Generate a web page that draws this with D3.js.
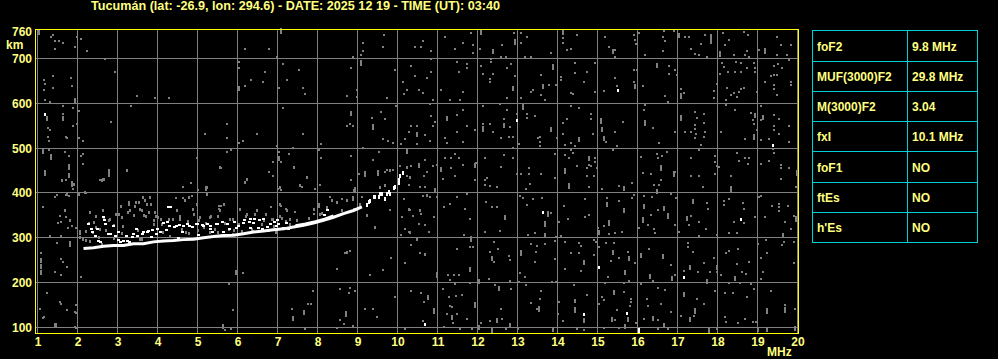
<!DOCTYPE html>
<html><head><meta charset="utf-8">
<script src="https://cdn.jsdelivr.net/npm/d3@7"></script>
<style>
body{margin:0;background:#000;}
svg{display:block;}
text{font-family:"Liberation Sans",Arial,sans-serif;font-weight:bold;}
</style></head>
<body><svg id="c" width="998" height="359"></svg>
<script>
// ---------- DATA ----------
const titleText = "Tucumán (lat: -26.9, lon: 294.6) - DATE: 2025 12 19 - TIME (UT): 03:40";
const freqTicks = [1,2,3,4,5,6,7,8,9,10,11,12,13,14,15,16,17,18,19,20];
const heightTicks = [100,200,300,400,500,600,700];
const heightLabels = [100,200,300,400,500,600,700,760];
const tableLabels = ["foF2","MUF(3000)F2","M(3000)F2","fxI","foF1","ftEs","h'Es"];
const tableValues = ["9.8 MHz","29.8 MHz","3.04","10.1 MHz","NO","NO","NO"];

// main O-trace (MHz, km)
const traceF = [2.15,2.40,2.65,2.90,3.15,3.40,3.65,3.90,4.15,4.40,4.65,4.90,5.15,5.40,5.65,5.90,6.15,6.40,6.65,6.90,7.15,7.40,7.65,7.90,8.15,8.40,8.65,8.90,9.11];
const traceH = [276,278,281,283,283,287,287,291,293,294,296,297,300,303,305,306,309,313,315,318,320,324,328,333,339,346,354,361,369];
// trace thickening band 7.4-8.4 MHz
const bandF = [7.45,7.7,7.95,8.2,8.4];
const bandH = [327,331,336,342,349];
// dotted end of trace near foF2 / fxI
const traceTail = [[9.23,373],[9.28,380],[9.32,383],[9.40,390],[9.44,391],[9.53,390],[9.57,398],[9.61,398],[9.69,387],[9.73,398],[9.78,402],[9.80,398],[9.90,411],[9.94,413],[10.03,423],[10.07,439],[10.13,445],[10.03,430]];
// upper (multiple) echo cloud, white
const echoWhite = [[2.36,313],[2.48,320],[2.65,339],[2.82,309],[2.94,305],[3.07,291],[3.23,294],[3.36,302],[3.48,305],[3.61,309],[3.73,313],[3.86,317],[3.98,320],[4.07,313],[4.23,335],[4.32,369],[4.40,324],[4.53,328],[4.61,313],[4.73,331],[4.86,324],[4.98,331],[5.11,328],[5.23,331],[5.36,313],[5.48,331],[5.61,335],[5.73,331],[5.90,335],[6.15,339],[6.28,335],[6.40,343],[6.53,339],[6.61,320],[6.73,324],[6.90,335],[6.98,339],[8.15,350],[8.23,361],[2.55,290],[3.0,296],[3.3,290],[4.5,300],[5.0,306],[4.2,318],[5.3,320],[6.0,326],[6.3,322],[7.2,334],[7.0,330],
[2.26,331],[2.34,320],[2.43,305],[2.51,294],[2.63,346],[2.68,331],[2.76,308],[2.88,327],[2.93,305],[3.01,312],[3.13,294],[3.22,305],[3.38,308],[3.47,320],[3.63,312],[3.76,316],[3.84,301],[3.97,308],[4.13,334],[4.26,368],[4.30,327],[4.47,327],[4.63,327],[4.80,327],[4.97,331],[5.13,327],[5.30,327],[5.47,331],[5.63,312],[5.80,320],[5.97,323],[6.13,334],[6.30,342],[6.38,334],[6.51,323],[6.63,342],[6.80,331],[6.97,327],[7.13,323],[7.26,320]];
// upper echo cloud, grey
const echoGrey = [[1.61,428],[1.73,398],[1.90,421],[2.03,398],[2.19,402],[1.69,361],[1.82,339],[2.07,302],[2.28,332],[2.32,294],[2.40,335],[2.53,302],[2.61,287],[2.65,346],[2.78,339],[2.90,328],[3.03,354],[3.11,346],[3.28,376],[3.32,361],[3.40,350],[3.44,372],[3.53,380],[3.61,361],[3.65,350],[3.69,384],[3.73,376],[3.78,358],[3.82,391],[3.90,339],[3.94,358],[4.02,346],[4.11,331],[4.32,305],[4.48,361],[4.57,343],[4.69,384],[4.78,391],[4.90,354],[4.98,376],[5.03,339],[5.15,324],[5.23,398],[5.32,346],[5.44,320],[5.57,361],[5.65,376],[5.82,343],[5.90,317],[6.07,365],[6.23,354],[6.36,320],[6.48,361],[6.65,339],[6.78,317],[6.86,343],[7.07,376],[7.07,413],[7.23,361],[7.32,343],[7.40,458],[7.57,417],[7.73,436],[7.90,365],[8.03,376],[8.07,354],[8.23,369],[8.36,384],[8.48,380],[8.61,361],[8.73,384],[8.90,406],[8.90,365],[9.07,376],[9.19,443],[9.23,350],[9.44,324],[9.57,413],[9.69,417],[9.82,451],[10.23,458],[10.32,436],[10.53,462],[10.73,395],[10.28,365],[10.57,361],[10.32,313],[10.48,298],[10.69,265],[8.73,268],[5.57,457],[5.23,413],[6.19,425],[2.65,432],[2.61,428],[2.78,447],[3.23,451],[6.23,432],[2.45,325],[2.7,318],[3.1,310],[3.5,318],[3.9,330],[4.3,342],[4.6,320],[5.0,318],[5.5,314],[5.8,320],[6.1,316],[6.6,330],[7.1,344],[7.5,340],[7.8,345],[8.1,356],[2.2,296],[2.9,300],[3.6,298],[4.8,310],[6.9,326],[7.3,330],
[2.30,357],[2.47,349],[2.63,361],[2.80,342],[2.97,353],[3.09,372],[3.26,357],[3.30,379],[3.47,379],[3.55,364],[3.63,390],[3.72,349],[3.84,375],[3.97,349],[4.09,342],[4.38,342],[4.55,349],[4.76,338],[4.88,364],[5.05,346],[5.22,334],[5.34,349],[5.51,349],[5.68,334],[5.88,342],[6.05,331],[6.22,349],[6.43,353],[6.72,353],[6.88,342],[7.05,349],[7.22,338],[2.38,312],[2.55,320],[3.13,327],[3.55,297],[4.13,312],[4.72,312],[5.30,312],[5.88,308],[6.38,316],[6.97,312],[2.13,297],[2.22,316]];
// background interference, single dots (MHz, km)
const noiseDots = [
[1.34,748],[1.38,752],[1.44,739],[1.53,739],[1.63,735],[1.44,721],[1.94,726],[1.98,748],[2.09,743],[2.23,716],[2.69,698],[2.94,670],[3.49,617],[3.94,611],[4.28,611],[3.34,593],[2.83,558],[1.38,661],[1.15,651],[1.19,643],[1.84,657],[1.87,639],[1.38,634],[1.15,629],[1.19,607],[1.32,603],[1.63,593],[1.88,590],[2.03,584],[1.63,576],[1.88,549],[1.98,553],[1.26,544],[1.30,540],[1.26,526],[1.70,526],[1.74,523],[1.28,517],[2.03,523],[2.13,517],[1.28,495],[1.69,491],[1.78,482],[2.09,482],[2.13,486],[2.13,464],[1.70,428],[2.55,428],[2.63,432],[2.78,438],[3.23,451],[5.18,531],[5.73,553],[5.73,523],[6.03,512],[6.13,517],[6.48,531],[5.84,495],[5.73,491],[5.59,456],[4.98,478],[6.19,721],[6.78,721],[6.98,704],[7.13,687],[6.03,692],[6.03,679],[6.19,639],[6.34,651],[6.69,669],[6.63,647],[7.03,634],[7.23,651],[7.13,590],[6.98,504],[7.03,491],[7.28,486],[7.09,469],[6.88,469],[6.78,447],[6.88,438],[6.23,428],
[9.65,752],[9.13,735],[9.63,726],[9.13,716],[9.08,707],[8.88,704],[8.84,679],[7.54,674],[7.63,634],[7.69,620],[8.73,617],[8.98,629],[8.98,614],[9.73,611],[9.94,674],[10.33,684],[10.44,660],[10.63,739],[10.44,726],[10.58,726],[10.83,716],[10.83,698],[10.84,669],[10.73,657],[10.13,648],[10.23,629],[10.15,620],[10.54,629],[10.63,624],[10.88,607],[11.19,748],[11.44,721],[11.63,735],[11.88,730],[11.88,713],[11.84,757],[11.48,692],[11.73,687],[11.73,679],[11.54,669],[11.09,629],[11.30,607],[11.55,607],[11.63,625],[12.05,721],[12.61,730],[12.58,704],[12.72,704],[12.33,698],[12.33,692],[12.08,684],[12.13,665],[12.30,655],[12.32,648],[12.38,665],[12.73,679],[12.83,687],[12.94,660],[12.73,611],[13.09,756],[13.23,747],[12.90,757],[13.09,735],[13.19,704],[13.33,704],[13.58,663],[13.33,625],[13.38,629],[13.58,618],[13.08,611],[9.97,593],[9.58,581],[9.36,567],[9.69,564],[8.73,549],[8.82,553],[8.88,549],[7.63,531],[8.08,509],[7.38,500],[8.04,495],[8.08,478],[8.84,482],[9.13,500],[9.54,491],[9.38,473],[9.63,521],[9.75,517],[9.88,512],[10.08,509],[10.19,521],[10.33,549],[10.48,549],[10.69,529],[10.80,517],[10.28,536],[10.48,510],[10.88,549],[10.83,571],[10.94,558],[10.80,598],[11.48,573],[11.63,585],[11.48,536],[11.63,514],[11.19,523],[11.23,512],[11.73,549],[11.94,540],[12.13,555],[12.30,553],[12.38,536],[12.13,593],[12.55,598],[12.73,585],[12.65,566],[12.82,547],[12.58,523],[12.79,526],[12.88,526],[12.98,577],[13.23,576],[13.23,567],[13.44,571],[13.50,523],[13.55,525],[13.55,513],[13.55,504],[13.03,509],[12.88,500],[12.88,478],[12.67,485],[12.58,459],[12.19,478],[11.97,467],[11.63,462],[11.34,456],[11.19,478],[11.34,478],[11.44,486],[11.54,478],[11.13,432],[10.98,463],[10.88,460],[10.69,473],[10.73,447],[10.65,438],[10.33,460],[10.23,456],[10.23,438],[10.07,460],[9.88,451],[9.73,451],[9.69,447],[9.19,447],[9.19,438],[9.03,442],[8.84,430],[7.73,433],[11.44,438],[11.94,428],[12.19,428],[12.23,433],[12.98,442],[13.08,442],[13.28,456],[13.28,442],[13.58,442],
[14.14,745],[14.14,735],[14.48,752],[14.23,719],[14.33,721],[13.83,713],[15.19,748],[15.29,725],[15.43,719],[15.43,704],[15.90,752],[15.93,742],[15.96,733],[16.04,757],[16.18,707],[16.65,761],[16.64,748],[16.68,739],[16.90,761],[16.64,717],[17.18,747],[17.29,748],[17.33,721],[17.58,732],[17.43,711],[17.54,707],[17.73,704],[17.69,752],[18.13,757],[18.29,741],[18.19,730],[18.40,707],[18.65,759],[18.77,752],[18.73,717],[18.68,707],[18.79,704],[19.04,719],[19.48,747],[19.58,730],[19.83,730],[19.48,707],[19.73,707],[19.79,696],[14.08,659],[14.08,652],[14.44,689],[14.44,668],[14.73,670],[14.67,648],[14.94,691],[14.94,625],[14.33,624],[14.39,620],[13.96,640],[13.79,640],[13.69,607],[15.15,628],[15.43,657],[15.48,639],[15.90,648],[15.90,674],[15.98,674],[16.14,639],[16.79,684],[16.79,666],[16.93,674],[16.98,663],[16.69,616],[16.75,603],[17.08,633],[17.15,624],[17.90,627],[17.90,612],[17.98,644],[18.10,689],[18.15,681],[18.07,666],[18.27,670],[18.46,692],[18.58,691],[18.43,670],[18.58,670],[18.73,678],[18.92,690],[18.93,678],[18.93,669],[18.23,635],[18.21,607],[18.33,618],[18.42,622],[18.48,614],[18.54,626],[18.58,631],[18.67,634],[18.98,626],[19.19,648],[19.40,684],[19.50,687],[19.60,678],[19.33,660],[19.40,664],[19.48,664],[19.40,640],[19.40,631],[19.48,618],[19.83,648],[19.83,640],
[13.98,523],[14.14,532],[14.14,556],[14.23,566],[14.33,593],[14.54,590],[14.83,576],[14.83,566],[14.88,531],[14.33,512],[14.18,506],[14.44,504],[15.21,514],[15.43,535],[15.64,558],[15.48,504],[15.38,497],[16.18,596],[16.17,585],[16.39,545],[16.54,512],[16.94,536],[17.18,536],[17.33,536],[17.44,581],[17.48,567],[17.43,551],[17.43,542],[17.46,531],[17.43,523],[17.58,508],[17.54,497],[17.65,577],[17.65,556],[17.68,536],[17.65,526],[18.08,536],[18.21,596],[18.43,585],[18.83,579],[18.88,562],[18.90,553],[18.98,541],[18.69,520],[19.08,593],[19.08,562],[19.08,519],[19.40,573],[19.54,566],[19.40,549],[19.40,540],[19.29,521],[19.54,531],[19.79,549],[19.79,514],[19.38,499],[19.40,490],[13.93,486],[14.18,484],[14.29,478],[14.33,495],[14.38,490],[14.48,460],[14.79,462],[14.73,456],[14.94,478],[14.94,469],[14.83,460],[14.98,456],[14.73,437],[14.90,437],[13.94,433],[16.08,480],[16.48,486],[16.61,482],[16.73,491],[16.50,477],[16.13,445],[16.33,442],[16.93,447],[16.58,430],[17.33,478],[17.33,439],[17.54,438],[17.93,482],[17.93,469],[17.98,460],[18.04,458],[17.93,442],[18.33,439],[18.48,490],[18.54,471],[18.68,478],[18.79,478],[18.77,464],[19.08,465],[19.29,471],[19.58,463],[19.58,456],[19.79,456],[19.58,432],
[1.88,409],[1.48,396],[1.43,390],[1.70,396],[1.78,394],[2.03,398],[2.20,401],[1.13,368],[1.57,349],[1.70,346],[1.59,336],[1.51,333],[1.76,323],[1.87,327],[1.97,323],[1.30,305],[1.59,305],[1.48,288],[1.09,267],[1.59,253],[1.63,245],[1.43,223],[1.59,217],[1.73,234],[2.09,212],[1.23,176],[1.05,142],[1.13,122],[1.55,156],[1.59,152],[1.73,139],[1.95,151],[1.95,133],[1.97,98],[4.63,413],[4.83,422],[4.87,394],[5.01,407],[5.53,372],[5.59,372],[5.53,364],[6.13,221],[5.78,198],[5.88,139],[5.68,95],[5.84,96],[7.01,410],[7.09,407],[6.84,368],[7.09,372],[7.20,364],[4.45,388],[4.63,388],[1.15,123],[1.94,134],[1.94,100],
[7.61,413],[7.94,409],[8.05,418],[9.11,390],[8.61,387],[8.32,390],[8.36,383],[7.44,357],[8.03,368],[7.92,353],[9.82,401],[10.15,387],[10.28,418],[10.55,413],[10.69,413],[10.98,390],[10.82,390],[10.63,394],[11.32,375],[11.48,390],[11.69,364],[11.15,368],[11.73,398],[12.19,418],[12.32,415],[12.48,413],[12.36,368],[12.22,379],[12.48,368],[13.07,394],[13.13,388],[13.22,409],[13.30,420],[13.38,387],[13.23,373],[13.61,388],[10.32,361],[10.38,349],[10.58,353],[10.90,346],[10.11,346],[10.53,331],[10.69,329],[10.19,320],[10.28,314],[10.78,314],[10.08,306],[9.44,323],[9.80,361],[11.82,342],[11.82,279],[11.88,279],[11.48,276],[11.65,306],[12.19,314],[12.55,316],[12.40,291],[12.30,269],[12.50,275],[12.40,245],[12.78,260],[12.80,251],[13.33,286],[13.48,282],[13.47,269],[13.44,247],[13.25,306],[13.44,311],[8.69,266],[8.80,270],[9.83,256],[10.33,284],[10.55,266],[10.19,244],[8.48,230],[9.63,229],[9.30,217],[11.25,217],[11.40,217],[11.53,217],[11.30,206],[11.44,197],[11.80,200],[12.28,208],[12.44,194],[12.82,204],[13.05,221],[13.19,212],[13.03,202],[13.22,194],[12.83,186],[13.58,182],[13.57,163],[13.48,141],[13.33,154],[7.88,182],[8.55,185],[8.80,189],[8.78,178],[8.94,182],[9.94,167],[10.33,182],[10.58,177],[10.67,157],[11.13,186],[11.28,167],[11.47,171],[11.61,172],[11.30,147],[11.36,145],[11.23,130],[11.48,130],[11.73,119],[11.86,96],[12.08,111],[12.32,115],[12.61,119],[12.58,142],[12.72,96],[13.00,96],[7.75,152],[7.83,152],[7.36,141],[7.69,96],[8.55,117],[8.65,107],[8.88,104],[9.19,142],[9.38,142],[9.48,124],[8.48,98],[10.19,96],[10.63,115],[11.15,102],[11.38,111],[11.57,96],
[14.79,413],[15.10,409],[15.54,416],[15.85,422],[16.40,418],[16.54,418],[16.83,398],[17.63,413],[19.96,413],[14.68,387],[14.17,372],[13.83,355],[14.04,336],[14.25,342],[14.68,347],[14.79,351],[14.08,305],[13.96,301],[15.23,388],[15.54,383],[15.85,388],[15.90,396],[16.15,394],[16.35,390],[16.33,351],[16.50,361],[16.96,388],[16.93,329],[15.15,326],[15.29,308],[15.43,311],[15.60,314],[15.00,323],[16.25,329],[16.04,323],[16.42,320],[16.43,311],[17.73,378],[17.75,364],[17.33,349],[17.29,329],[17.54,336],[17.71,320],[17.04,314],[17.54,303],[17.98,306],[18.15,383],[18.29,387],[18.17,373],[18.63,378],[18.65,364],[18.67,333],[18.40,336],[18.29,311],[18.48,311],[18.93,346],[19.08,394],[19.04,390],[19.18,346],[19.35,372],[19.54,375],[19.54,368],[19.54,360],[19.75,370],[19.68,336],[19.90,349],[19.83,320],[13.69,286],[13.93,294],[14.18,291],[14.54,288],[14.58,282],[14.90,296],[14.96,291],[13.94,253],[14.33,266],[14.54,266],[14.58,226],[14.18,230],[14.90,261],[15.04,279],[15.21,288],[15.42,288],[15.33,249],[15.54,256],[15.75,269],[15.93,244],[16.29,275],[16.83,239],[16.38,204],[16.08,197],[15.67,200],[15.79,203],[15.19,200],[15.25,212],[16.93,217],[17.25,288],[17.25,279],[17.38,269],[17.17,226],[17.50,223],[17.65,244],[17.90,256],[17.82,223],[17.98,223],[18.08,217],[18.21,267],[18.29,271],[18.52,275],[18.48,241],[18.60,224],[18.71,219],[18.79,247],[19.00,286],[19.21,296],[19.08,256],[19.13,224],[19.08,208],[19.24,267],[19.60,284],[19.67,290],[19.90,291],[19.90,244],[18.29,199],[18.57,199],[18.83,197],[13.85,202],[13.96,202],[14.40,194],[14.04,157],[14.02,130],[14.13,115],[14.43,162],[14.43,157],[14.73,172],[14.48,96],[15.10,167],[15.15,162],[15.04,152],[15.48,139],[15.67,180],[15.83,163],[15.83,157],[15.82,147],[15.43,117],[15.54,98],[15.15,98],[15.96,111],[16.15,120],[16.24,163],[16.25,147],[16.50,187],[16.68,184],[16.58,152],[16.83,135],[16.50,117],[16.50,96],[16.77,96],[17.08,126],[17.40,126],[17.48,163],[17.65,152],[17.93,182],[18.18,178],[18.38,178],[18.73,167],[18.90,186],[19.33,182],[19.68,150],[19.93,142],[18.88,113],[18.96,113],[18.68,120],[18.18,124],[18.21,113],[18.50,111],[17.98,96],[14.67,95]
];
// background interference, short vertical dashes
const noiseDashes = [[1.03,759],[1.94,605],[1.23,566],[1.63,566],[1.13,493],[1.34,480],[1.78,458],[1.78,439],[1.19,445],[2.78,447],[6.03,633],[7.03,477],[7.09,761],
[9.09,690],[12.08,759],[12.38,716],[12.88,633],[12.94,737],[13.63,637],[9.38,547],[8.84,577],[10.23,494],[10.48,531],[11.23,566],[12.13,543],[12.65,551],[13.13,592],[11.94,462],[11.09,452],[10.54,462],[9.50,445],
[14.13,759],[15.38,715],[17.04,751],[17.83,748],[17.83,738],[18.07,710],[19.18,717],[13.89,681],[15.93,637],[16.48,685],[17.08,616],[13.83,542],[14.54,520],[15.08,561],[15.10,542],[15.15,521],[16.18,556],[17.08,567],[18.93,573],[18.90,525],[19.14,568],[14.79,477],[14.18,449],[16.58,456],[16.90,442],[19.98,445],
[1.87,420],[2.05,312],[1.80,286],[1.09,250],[1.09,236],[1.09,222],[1.45,105],[1.44,104],[5.22,410],[5.97,223],[5.63,102],
[8.94,407],[8.88,388],[10.94,405],[12.69,346],[11.83,297],[12.36,254],[13.08,266],[10.98,217],[11.82,229],[12.03,202],[12.53,187],[13.53,141],[10.75,167],[10.92,137],[11.36,122],[11.94,150],[12.03,100],[12.48,115],[12.82,104],[12.36,92],[7.65,133],[7.38,120],[8.72,130],
[14.29,416],[15.65,410],[16.48,403],[18.33,409],[13.75,353],[13.69,331],[13.69,305],[15.23,375],[15.65,361],[16.15,370],[16.65,366],[16.75,349],[15.29,333],[15.04,312],[16.13,340],[17.38,381],[17.23,343],[19.96,342],[19.63,305],[14.67,245],[15.38,267],[15.79,254],[15.68,223],[16.08,260],[16.63,258],[16.32,214],[16.85,209],[17.32,234],[17.98,234],[18.43,209],[17.73,202],[14.44,139],[14.65,115],[13.88,96],[15.40,178],[15.75,118],[15.35,118],[15.68,102],[16.38,120],[16.67,105],[17.15,174],[17.43,137],[17.32,118],[17.79,92],[19.68,139],[19.24,137],[19.00,96],[19.24,96],[19.93,98]
];
// isolated bright dots
const whiteDots = [[1.19,576],[12.98,562],[15.50,630],[19.38,508],[13.63,358],[10.69,107],[18.58,343],[15.03,234],[17.15,212],[14.65,130],[15.73,133],[16.04,96],[16.04,91]];

// ---------- CHART ----------
const svg = d3.select("#c");
svg.append("rect").attr("width",998).attr("height",359).attr("fill","#000");
const x = d3.scaleLinear().domain([0.95,20.025]).range([35.5,798.5]);
const y = d3.scaleLinear().domain([86.6,764.7]).range([333.5,29.5]);
const GREY = "#808080", YEL = "#ffff00", LY = "#ffff80";

// grid
const grid = svg.append("g").attr("stroke",GREY).attr("stroke-width",1).attr("shape-rendering","crispEdges");
grid.selectAll("line.v").data(freqTicks).join("line").attr("class","v")
  .attr("x1",d=>x(d)).attr("x2",d=>x(d)).attr("y1",y.range()[0]).attr("y2",y.range()[1]);
grid.selectAll("line.h").data(heightTicks).join("line").attr("class","h")
  .attr("y1",d=>y(d)).attr("y2",d=>y(d)).attr("x1",x.range()[0]).attr("x2",x.range()[1]);

// noise
const dots = svg.append("g").attr("shape-rendering","crispEdges");
dots.selectAll("rect.n").data(noiseDots).join("rect").attr("class","n")
  .attr("x",d=>Math.round(x(d[0]))-1).attr("y",d=>Math.round(y(d[1]))-1).attr("width",2).attr("height",2).attr("fill",GREY);
dots.selectAll("rect.d").data(noiseDashes).join("rect").attr("class","d")
  .attr("x",d=>Math.round(x(d[0]))-1).attr("y",d=>Math.round(y(d[1]+6))).attr("width",2).attr("height",d=>Math.round(y(d[1]-6))-Math.round(y(d[1]+6))).attr("fill",GREY);
dots.selectAll("rect.eg").data(echoGrey).join("rect").attr("class","eg")
  .attr("x",d=>Math.round(x(d[0]))-1).attr("y",d=>Math.round(y(d[1]))-1).attr("width",2).attr("height",3).attr("fill",GREY);

// trace
const line = d3.line().x(d=>x(d)).y((d,i)=>y(traceH[i]));
svg.append("path").attr("d",line(traceF)).attr("fill","none").attr("stroke","#fff").attr("stroke-width",3);
const line2 = d3.line().x(d=>x(d)).y((d,i)=>y(bandH[i]));
svg.append("path").attr("d",line2(bandF)).attr("fill","none").attr("stroke","#fff").attr("stroke-width",3);
const dots2 = svg.append("g").attr("shape-rendering","crispEdges");
dots2.selectAll("rect.t").data(traceTail).join("rect").attr("class","t")
  .attr("x",d=>Math.round(x(d[0]))-1).attr("y",d=>Math.round(y(d[1]))-2).attr("width",2).attr("height",4).attr("fill","#fff");
dots2.selectAll("rect.ew").data(echoWhite).join("rect").attr("class","ew")
  .attr("x",d=>Math.round(x(d[0]))-1).attr("y",d=>Math.round(y(d[1]))-1).attr("width",3).attr("height",2).attr("fill","#fff");
dots2.selectAll("rect.w").data(whiteDots).join("rect").attr("class","w")
  .attr("x",d=>Math.round(x(d[0]))-1).attr("y",d=>Math.round(y(d[1]))-1).attr("width",2).attr("height",3).attr("fill","#fff");

// border
svg.append("rect").attr("x",35.5).attr("y",29.5).attr("width",763).attr("height",304)
  .attr("fill","none").attr("stroke",YEL).attr("stroke-width",1).attr("shape-rendering","crispEdges");

// axes
const yAx = svg.append("g").attr("transform","translate(33,0)")
  .call(d3.axisLeft(y).tickValues(heightLabels).tickSize(0).tickPadding(1).tickFormat(d3.format("d")));
yAx.select(".domain").remove();
yAx.selectAll("text").attr("fill",LY).style("font-size","12px").style("font-family","'Liberation Sans',Arial,sans-serif").style("font-weight","bold");
const xAx = svg.append("g").attr("transform","translate(0,337)")
  .call(d3.axisBottom(x).tickValues(freqTicks).tickSize(0).tickPadding(0).tickFormat(d3.format("d")));
xAx.select(".domain").remove();
xAx.selectAll("text").attr("fill",LY).style("font-size","12px").style("font-family","'Liberation Sans',Arial,sans-serif").style("font-weight","bold");

svg.append("text").attr("x",6).attr("y",49).attr("fill",LY).style("font-size","12px").text("km");
svg.append("text").attr("x",767).attr("y",356).attr("fill",LY).style("font-size","12px").text("MHz");
svg.append("text").attr("x",91).attr("y",10).attr("fill",LY).style("font-size","12px")
  .attr("textLength",409).attr("lengthAdjust","spacingAndGlyphs").text(titleText);

// table
const rowEdges = [30,61,91,121,151,182,212,242];
const CY = "#00d0d8";
const tb = svg.append("g").attr("shape-rendering","crispEdges");
tb.append("rect").attr("x",812.5).attr("y",30.5).attr("width",165).attr("height",212).attr("fill","none").attr("stroke",CY);
tb.append("line").attr("x1",907.5).attr("x2",907.5).attr("y1",30.5).attr("y2",242.5).attr("stroke",CY);
tb.selectAll("line.r").data(rowEdges.slice(1,-1)).join("line").attr("class","r")
  .attr("x1",812.5).attr("x2",977.5).attr("y1",d=>d+0.5).attr("y2",d=>d+0.5).attr("stroke",CY);
const rows = svg.append("g");
rows.selectAll("text.l").data(tableLabels).join("text").attr("class","l")
  .attr("x",817).attr("y",(d,i)=>(rowEdges[i]+rowEdges[i+1])/2+5).attr("fill",LY).style("font-size","12px").text(d=>d);
rows.selectAll("text.v").data(tableValues).join("text").attr("class","v")
  .attr("x",912).attr("y",(d,i)=>(rowEdges[i]+rowEdges[i+1])/2+5).attr("fill",LY).style("font-size","12px").text(d=>d);
</script></body></html>
